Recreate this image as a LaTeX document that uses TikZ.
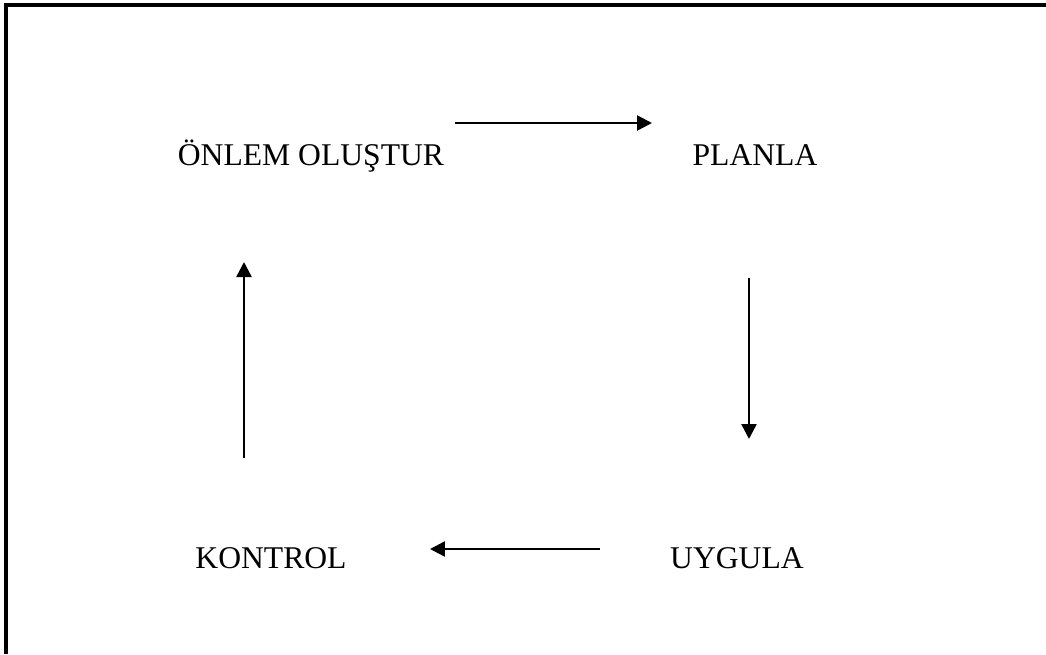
\documentclass[tikz,border=0pt]{standalone}
\usepackage{fontspec}
\setmainfont{Liberation Serif}
\usetikzlibrary{arrows.meta}

\begin{document}
\begin{tikzpicture}[x=0.02cm,y=-0.02cm,
  step label/.style={anchor=base,inner sep=0pt,font=\fontsize{18}{22}\selectfont},
  cycle arrow/.style={line width=1.4pt,-{Triangle[length=0.3cm,width=0.3cm]}}]
\useasboundingbox (0,0) rectangle (1046,654);
% frame, only top and left side
\draw[line width=2pt] (6,654) -- (6,5) -- (1046,5);

\node[step label] (onlem) at (311,165) {ÖNLEM OLUŞTUR};
\node[step label] (planla) at (755,165) {PLANLA};
\node[step label] (uygula) at (737,568) {UYGULA};
\node[step label] (kontrol) at (271,568) {KONTROL};

\coordinate (o2p) at (455,123); \coordinate (p2o) at (652,123);
\coordinate (p2u) at (749,278); \coordinate (u2p) at (749,439);
\coordinate (u2k) at (600,549); \coordinate (k2u) at (430,549);
\coordinate (k2o) at (244,458); \coordinate (o2k) at (244,262);

\draw[cycle arrow] (o2p) -- (p2o);
\draw[cycle arrow] (p2u) -- (u2p);
\draw[cycle arrow] (u2k) -- (k2u);
\draw[cycle arrow] (k2o) -- (o2k);
\end{tikzpicture}
\end{document}
